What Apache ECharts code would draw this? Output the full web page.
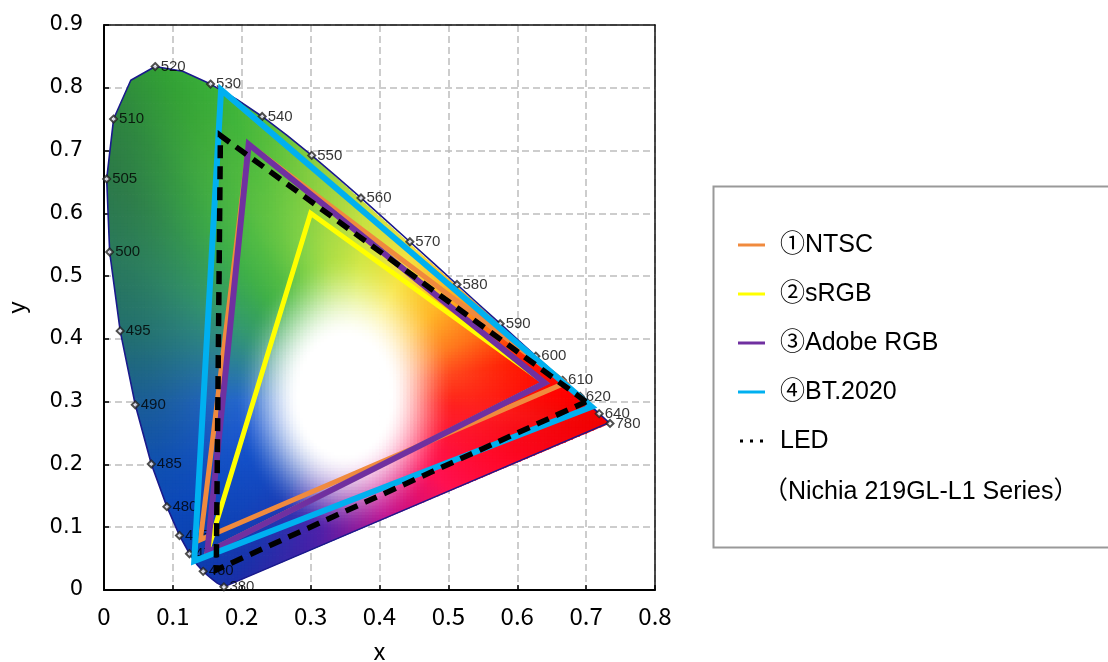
<!DOCTYPE html>
<html><head><meta charset="utf-8">
<script src="https://cdn.jsdelivr.net/npm/echarts@6.0.0/dist/echarts.min.js"></script>
<style>html,body{margin:0;padding:0;background:#fff}#c{width:1108px;height:662px}</style>
</head><body><div id="c"></div><script>
// ---------- data ----------
// CIE 1931 spectral locus (wavelength nm, x, y)
const locusWavelengths = [380,440,450,455,460,465,470,475,480,485,490,495,500,505,510,515,520,525,530,535,540,545,550,555,560,565,570,575,580,585,590,595,600,605,610,615,620,630,640,650,660,680,780];
const locusX = [0.1741,0.1644,0.1566,0.1510,0.1440,0.1355,0.1241,0.1096,0.0913,0.0687,0.0454,0.0235,0.0082,0.0039,0.0139,0.0389,0.0743,0.1142,0.1547,0.1929,0.2296,0.2658,0.3016,0.3373,0.3731,0.4087,0.4441,0.4788,0.5125,0.5448,0.5752,0.6029,0.6270,0.6482,0.6658,0.6801,0.6915,0.7079,0.7190,0.7260,0.7300,0.7334,0.7347];
const locusY = [0.0050,0.0109,0.0177,0.0227,0.0297,0.0399,0.0578,0.0868,0.1327,0.2007,0.2950,0.4127,0.5384,0.6548,0.7502,0.8120,0.8338,0.8262,0.8059,0.7816,0.7543,0.7243,0.6923,0.6589,0.6245,0.5896,0.5547,0.5202,0.4866,0.4544,0.4242,0.3965,0.3725,0.3514,0.3340,0.3197,0.3083,0.2920,0.2809,0.2740,0.2700,0.2666,0.2653];
const labeledWavelengths = [380,460,470,475,480,485,490,495,500,505,510,520,530,540,550,560,570,580,590,600,610,620,640,780];

const seriesNames = ['①NTSC','②sRGB','③Adobe RGB','④BT.2020','LED'];
const ntscX  = [0.67, 0.21, 0.14];   const ntscY  = [0.33, 0.71, 0.08];
const srgbX  = [0.64, 0.30, 0.15];   const srgbY  = [0.33, 0.60, 0.06];
const adobeX = [0.64, 0.21, 0.15];   const adobeY = [0.33, 0.71, 0.06];
const bt2020X= [0.708,0.170,0.131];  const bt2020Y= [0.292,0.797,0.046];
const ledX   = [0.700,0.169,0.163];  const ledY   = [0.300,0.724,0.032];
const noteText = '（Nichia 219GL-L1 Series）';

const xMin = 0, xMax = 0.8, xStep = 0.1;
const yMin = 0, yMax = 0.9, yStep = 0.1;

// background colouring anchors (angle around white area, saturated colour, colour at locus edge)
const fillAngles = [0,12,26,46,67,84,96,104,110,117,126,134,145,162,183,202,216,230,241,260,287,316,336,354];
const fillMid  = ['#ff2a1a','#ff4a20','#ff8028','#ffc030','#f8e840','#d8ec48','#b0e048','#88d448','#6cc844','#52bc44','#40b048','#38a458','#349870','#2c8098','#2466cc','#1c58d0','#1450c8','#1448c0','#1a40b8','#6028b0','#d01898','#ff1860','#ff1838','#ff2020'];
const fillEdge = ['#ff0000','#ff1800','#ff6a10','#ffb020','#f5e040','#c8e040','#90d040','#5cc03c','#3cb33a','#32a035','#2e8540','#2d7a48','#2b7a5a','#23706e','#1a5c98','#1050b0','#0c48b8','#0c40b0','#1830a8','#4a20a8','#c01090','#ff1050','#ff0828','#f00000'];

// ---------- helpers ----------
const pairs = (xs, ys) => xs.map((x, i) => [x, ys[i]]);
const closed = (xs, ys) => { const p = pairs(xs, ys); return p.concat([p[0]]); };
const closedJoin = (xs, ys) => { const p = pairs(xs, ys); return p.concat([p[0], p[1]]); };
const locus = pairs(locusX, locusY);
const clipPolyArr = locus.slice();
let area = 0;
for (let i = 0; i < clipPolyArr.length; i++) { const a = clipPolyArr[i], b = clipPolyArr[(i+1)%clipPolyArr.length]; area += a[0]*b[1]-b[0]*a[1]; }
const orient = area > 0 ? 1 : -1;

function hex2rgb(h){ return [parseInt(h.slice(1,3),16),parseInt(h.slice(3,5),16),parseInt(h.slice(5,7),16)]; }
const midRGB = fillMid.map(hex2rgb), edgeRGB = fillEdge.map(hex2rgb);
function interpAngle(arr, a){
  const n = fillAngles.length;
  for (let i = 0; i < n; i++){
    const a0 = fillAngles[i], a1 = i+1 < n ? fillAngles[i+1] : fillAngles[0] + 360;
    let aa = a; if (i === n-1 && aa < a0) aa += 360;
    if (aa >= a0 && aa <= a1){
      const t = (aa - a0) / (a1 - a0); const c0 = arr[i], c1 = arr[(i+1)%n];
      return [c0[0]+(c1[0]-c0[0])*t, c0[1]+(c1[1]-c0[1])*t, c0[2]+(c1[2]-c0[2])*t];
    }
  }
  return arr[0];
}
const Wc = [0.35, 0.31];
function rayDist(a){
  const dx = Math.cos(a), dy = Math.sin(a); let best = 1;
  for (let i = 0; i < clipPolyArr.length; i++){
    const A = clipPolyArr[i], B = clipPolyArr[(i+1)%clipPolyArr.length];
    const ex = B[0]-A[0], ey = B[1]-A[1];
    const den = dx*ey - dy*ex; if (Math.abs(den) < 1e-12) continue;
    const t = ((A[0]-Wc[0])*ey - (A[1]-Wc[1])*ex) / den;
    const u = ((A[0]-Wc[0])*dy - (A[1]-Wc[1])*dx) / den;
    if (t > 0 && u >= 0 && u <= 1 && t < best) best = t;
  }
  return best;
}
const distTable = []; for (let k = 0; k < 720; k++) distTable.push(rayDist(k/720*2*Math.PI));
const sstep = (e0,e1,x) => { const t = Math.min(1, Math.max(0,(x-e0)/(e1-e0))); return t*t*(3-2*t); };
function colorAt(x, y){
  const dx = x - Wc[0], dy = y - Wc[1];
  const d = Math.hypot(dx, dy);
  let ar = Math.atan2(dy, dx); if (ar < 0) ar += 2*Math.PI;
  const deg = ar*180/Math.PI;
  const mid = interpAngle(midRGB, deg), edge = interpAngle(edgeRGB, deg);
  const D = distTable[Math.round(ar/(2*Math.PI)*720)%720];
  const s = sstep(0.065, 0.16, Math.hypot(dx, dy/1.4));
  const u = sstep(0.45, 1.0, d / D);
  const c = [0,1,2].map(k => mid[k] + (edge[k]-mid[k])*u);
  return 'rgb(' + c.map(v => Math.round(255 + (v-255)*s)).join(',') + ')';
}
function inter(P,Q,A,B){
  const x1=P[0],y1=P[1],x2=Q[0],y2=Q[1],x3=A[0],y3=A[1],x4=B[0],y4=B[1];
  const den=(x1-x2)*(y3-y4)-(y1-y2)*(x3-x4);
  const t=((x1-x3)*(y3-y4)-(y1-y3)*(x3-x4))/den;
  return [x1+t*(x2-x1), y1+t*(y2-y1)];
}
function clip(subject){
  let out = subject;
  for (let i = 0; i < clipPolyArr.length && out.length; i++){
    const A = clipPolyArr[i], B = clipPolyArr[(i+1)%clipPolyArr.length];
    if (A[0]===B[0] && A[1]===B[1]) continue;
    const inside = p => orient*((B[0]-A[0])*(p[1]-A[1]) - (B[1]-A[1])*(p[0]-A[0])) >= 0;
    const inp = out; out = [];
    for (let j = 0; j < inp.length; j++){
      const P = inp[j], Q = inp[(j+1)%inp.length];
      const pin = inside(P), qin = inside(Q);
      if (pin){ out.push(P); if (!qin) out.push(inter(P,Q,A,B)); }
      else if (qin){ out.push(inter(P,Q,A,B)); }
    }
  }
  return out;
}
// background cells
const cellPolys = [], cellColors = [], cellData = [];
const cs = 0.005, ex = 0.0006;
for (let x = 0; x < 0.75; x += cs){
  for (let y = 0; y < 0.84; y += cs){
    const poly = clip([[x-ex,y-ex],[x+cs+ex,y-ex],[x+cs+ex,y+cs+ex],[x-ex,y+cs+ex]]);
    if (poly.length < 3) continue;
    cellPolys.push(poly); cellColors.push(colorAt(x+cs/2, y+cs/2)); cellData.push([x+cs/2, y+cs/2]);
  }
}
const labeledPoints = labeledWavelengths.map(w => { const i = locusWavelengths.indexOf(w); return [locusX[i], locusY[i], w]; });

// ---------- chart ----------
const chart = echarts.init(document.getElementById('c'), null, {renderer: 'canvas'});
const gridLine = {show: true, lineStyle: {color: '#bdbdbd', width: 1.5, type: [7, 4]}};
const frameAxis = {axisLine: {show: true, onZero: false, lineStyle: {color: '#111', width: 1.5}}, axisTick: {show: false}, axisLabel: {show: false}, splitLine: {show: false}};
const triangle = (name, data, color, z, extra) => Object.assign({
  name, type: 'line', data, symbol: 'none', z, color, silent: true,
  lineStyle: {color, width: 5, join: 'miter', cap: 'butt'}, itemStyle: {color}
}, extra || {});
const legendFont = 'Liberation Sans, Noto Sans CJK JP';
chart.setOption({
  animation: false,
  grid: {left: 104, top: 25, width: 551, height: 565, containLabel: false, outerBoundsMode: 'none'},
  xAxis: [{type: 'value', min: xMin, max: xMax, interval: xStep,
    name: 'x', nameLocation: 'middle', nameGap: 49, nameTextStyle: {fontSize: 24, color: '#000', fontFamily: 'Noto Sans CJK JP'},
    axisLine: {show: true, onZero: false, lineStyle: {color: '#000', width: 2}},
    axisTick: {show: true, inside: true, length: 5, lineStyle: {color: '#000', width: 1.5}},
    axisLabel: {fontSize: 24, color: '#000', margin: 14, fontFamily: 'Noto Sans CJK JP', formatter: v => String(+v.toFixed(1))},
    splitLine: gridLine},
    Object.assign({type: 'value', position: 'top', min: xMin, max: xMax, interval: xStep}, frameAxis)],
  yAxis: [{type: 'value', min: yMin, max: yMax, interval: yStep,
    name: 'y', nameLocation: 'middle', nameGap: 74, nameRotate: 90, nameTextStyle: {fontSize: 24, color: '#000', fontFamily: 'Liberation Sans'},
    axisLine: {show: true, onZero: false, lineStyle: {color: '#000', width: 2}},
    axisTick: {show: true, inside: true, length: 5, lineStyle: {color: '#000', width: 1.5}},
    axisLabel: {fontSize: 21, color: '#000', margin: 21, fontFamily: 'DejaVu Sans', formatter: v => String(+v.toFixed(1))},
    splitLine: gridLine},
    Object.assign({type: 'value', position: 'right', min: yMin, max: yMax, interval: yStep}, frameAxis)],
  legend: {
    orient: 'vertical', left: 733, top: 227, itemWidth: 27, itemHeight: 3, itemGap: 23,
    selectedMode: false,
    textStyle: {fontSize: 25, lineHeight: 26, color: '#000', fontFamily: legendFont, padding: [0,0,0,10]},
    data: [
      {name: seriesNames[0], icon: 'rect'},
      {name: seriesNames[1], icon: 'rect'},
      {name: seriesNames[2], icon: 'rect'},
      {name: seriesNames[3], icon: 'rect'},
      {name: seriesNames[4], icon: 'path://M0,0h3v3h-3zM10,0h3v3h-3zM20,0h3v3h-3z', itemStyle: {color: '#000'}}
    ]
  },
  graphic: [
    {type: 'rect', left: 711, top: 184, shape: {width: 420, height: 361}, style: {fill: 'none', stroke: '#999', lineWidth: 2}, silent: true},
    {type: 'text', left: 763, top: 480, style: {text: noteText, fontSize: 25, fill: '#000', fontFamily: legendFont}, silent: true}
  ],
  series: [
    {type: 'custom', name: 'fill', z: 1, silent: true, data: cellData, encode: {x: 0, y: 1}, progressive: 0,
      renderItem: (params, api) => ({type: 'polygon', shape: {points: cellPolys[params.dataIndex].map(p => api.coord(p))}, style: {fill: cellColors[params.dataIndex], stroke: null}})},
    {type: 'line', name: 'locus', z: 2, silent: true, symbol: 'none', data: locus.concat([locus[0]]),
      lineStyle: {color: '#1a1a8c', width: 1.6}},
    {type: 'scatter', name: 'marks', z: 3, silent: true, symbol: 'emptyDiamond', symbolSize: 7, data: labeledPoints,
      itemStyle: {color: '#222', borderWidth: 1},
      label: {show: true, position: 'right', distance: 1, formatter: p => String(p.value[2]), fontSize: 15, color: '#000', fontFamily: 'Liberation Sans'}},
    triangle(seriesNames[0], closedJoin(ntscX, ntscY), '#f08a3e', 4),
    triangle(seriesNames[1], closedJoin(srgbX, srgbY), '#ffff00', 5),
    triangle(seriesNames[2], closedJoin(adobeX, adobeY), '#7030a0', 6, {lineStyle: {color: '#7030a0', width: 6, join: 'miter'}}),
    triangle(seriesNames[3], closedJoin(bt2020X, bt2020Y), '#00b0f0', 7, {lineStyle: {color: '#00b0f0', width: 6, join: 'miter'}}),
    triangle(seriesNames[4], closed(ledX, ledY), '#000000', 8, {lineStyle: {color: '#000', width: 5.5, type: [13, 8], join: 'miter'}})
  ]
});
</script></body></html>
